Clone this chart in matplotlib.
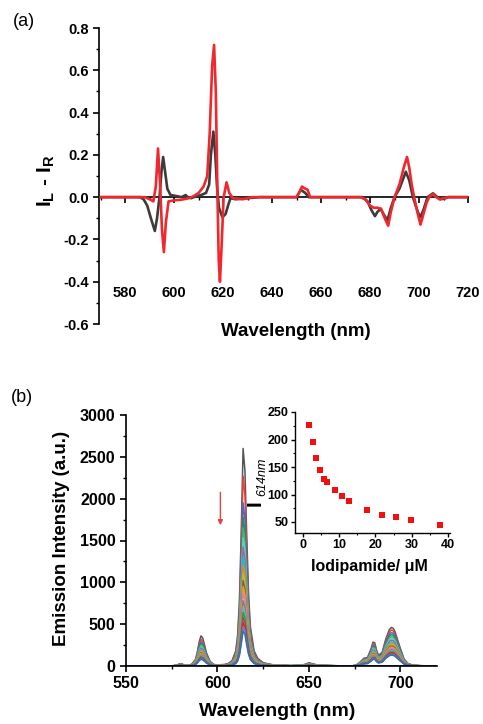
import numpy as np
import matplotlib
matplotlib.use("Agg")
import matplotlib.pyplot as plt
from matplotlib.ticker import MultipleLocator

plt.rcParams['font.family'] = ['Liberation Sans', 'DejaVu Sans']
plt.rcParams['mathtext.fontset'] = 'custom'
plt.rcParams['mathtext.rm'] = 'Liberation Sans'
plt.rcParams['mathtext.it'] = 'Liberation Sans:italic'
plt.rcParams['mathtext.bf'] = 'Liberation Sans:bold'

# ---------------- Panel (a): CPL spectra ----------------
cpl_black_wl = [570, 586, 587.5, 589, 590.5, 592.1, 593, 594, 594.8, 595.5, 596.3, 597.2, 598.5, 601, 603,
                604.7, 605.5, 607, 608, 611, 613, 614.3, 615, 616, 616.8, 617.5, 618.3, 619.7, 621, 622, 623,
                625, 630, 635, 650, 651.7, 653.5, 655, 660, 677, 679, 680.5, 682, 683, 684.3, 685.5, 687.1,
                688.5, 690, 692, 694.6, 696, 697.5, 699.5, 700.6, 701.8, 703.5, 705.7, 707.5, 708.5, 710, 712, 720]
cpl_black = [0, 0, -0.01, -0.04, -0.1, -0.16, -0.1, 0.0, 0.12, 0.19, 0.12, 0.04, 0.01, 0.005, 0.0,
             0.01, 0.0, -0.005, 0, 0.01, 0.02, 0.06, 0.2, 0.31, 0.2, 0.05, -0.05, -0.095, -0.08, -0.04, -0.005,
             -0.01, -0.005, 0, 0, 0.035, 0.02, 0.0, 0, 0, -0.02, -0.06, -0.09, -0.07, -0.055, -0.08, -0.11,
             -0.05, 0.0, 0.04, 0.12, 0.08, 0.0, -0.07, -0.095, -0.06, 0.0, 0.018, 0.0, -0.01, -0.008, 0, 0]

cpl_red_wl = [570, 585, 588, 590, 591.5, 592.5, 593.4, 594.3, 595, 595.8, 596.6, 597.7, 600, 603, 606, 608,
              610, 612, 613.5, 614.5, 615.5, 616.3, 617, 617.7, 618.2, 618.7, 619.3, 620.2, 621.4, 622.5,
              624, 628, 632, 650, 651, 652.2, 653.5, 654.5, 655.5, 660, 676, 678, 680, 681.5, 683, 684.5,
              686, 687.4, 688.5, 690, 692, 694, 695.1, 696, 697, 698, 699.5, 700.6, 701.8, 703, 704.1,
              705.7, 707, 708.5, 710, 712, 720]
cpl_red = [0, 0, 0.0, -0.01, -0.02, 0.05, 0.23, 0.05, -0.15, -0.26, -0.12, -0.02, -0.015, -0.012, -0.005, 0.005,
           0.02, 0.05, 0.1, 0.3, 0.62, 0.72, 0.5, 0.0, -0.3, -0.40, -0.25, 0.0, 0.07, 0.02,
           -0.005, -0.01, 0, 0, 0.02, 0.05, 0.04, 0.035, 0.0, 0, 0, -0.01, -0.04, -0.05, -0.05, -0.055,
           -0.1, -0.135, -0.07, 0.0, 0.06, 0.15, 0.19, 0.14, 0.06, 0.0, -0.08, -0.13, -0.08, -0.03, 0,
           0.015, 0.0, -0.01, -0.005, 0, 0]

# ---------------- Panel (b): emission titration ----------------
em_wl = [550, 570, 576, 578, 580, 582, 584, 586, 588, 589, 590, 591, 592, 593, 594, 596, 598, 600, 604, 606,
         608, 610, 611, 612, 613, 614, 615, 616, 617, 618, 620, 622, 625, 630, 640, 646, 648, 650, 652, 655,
         670, 674, 676, 678, 680, 682, 684, 685, 686, 687, 688, 690, 692, 694, 695, 696, 697, 698, 700, 702,
         704, 706, 710, 715, 720]
# relative band profiles on em_wl
band_591 = [0, 0, 0.01, 0.04, 0.08, 0.03, 0.02, 0.06, 0.22, 0.47, 0.8, 1.0, 0.92, 0.68, 0.43, 0.15, 0.05, 0.015, 0, 0,
            0, 0, 0, 0, 0, 0, 0, 0, 0, 0, 0, 0, 0, 0, 0, 0, 0, 0, 0, 0,
            0, 0, 0, 0, 0, 0, 0, 0, 0, 0, 0, 0, 0, 0, 0, 0, 0, 0, 0, 0,
            0, 0, 0, 0, 0]
band_614 = [0, 0, 0, 0, 0, 0, 0, 0, 0, 0, 0, 0, 0, 0, 0, 0, 0, 0.003, 0.007, 0.012,
            0.025, 0.07, 0.14, 0.3, 0.62, 1.0, 0.9, 0.6, 0.33, 0.18, 0.07, 0.035, 0.015, 0.006, 0.002, 0.004, 0.008, 0.015, 0.01, 0.004,
            0, 0, 0, 0, 0, 0, 0, 0, 0, 0, 0, 0, 0, 0, 0, 0, 0, 0, 0, 0,
            0, 0, 0, 0, 0]
band_695 = [0, 0, 0, 0, 0, 0, 0, 0, 0, 0, 0, 0, 0, 0, 0, 0, 0, 0, 0, 0,
            0, 0, 0, 0, 0, 0, 0, 0, 0, 0, 0, 0, 0, 0, 0, 0, 0, 0, 0, 0,
            0, 0.005, 0.03, 0.1, 0.2, 0.22, 0.45, 0.62, 0.6, 0.4, 0.28, 0.35, 0.7, 0.95, 1.0, 0.98, 0.9, 0.75, 0.45, 0.18,
            0.07, 0.03, 0.01, 0.003, 0]
# peak heights of each spectrum
peak_614 = [2600, 2270, 1950, 1780, 1650, 1530, 1420, 1300, 1200, 1100, 1020, 950, 870, 780, 700, 640, 580, 520, 470, 420]
peak_591 = [360, 320, 290, 270, 250, 230, 215, 200, 185, 170, 160, 150, 140, 130, 120, 110, 100, 95, 88, 80]
peak_695 = [460, 430, 400, 375, 350, 330, 310, 290, 270, 255, 240, 225, 210, 195, 180, 170, 160, 150, 140, 130]
spec_colors = ['#555555', '#e8413c', '#3b6fd1', '#2e8b57', '#49b36a', '#5fd3bc', '#9467bd', '#17becf',
               '#ff7f0e', '#bcbd22', '#8c564b', '#e8a020', '#e377c2', '#7f7f7f', '#66aadd', '#2ca02c',
               '#8c564b', '#d62728', '#9467bd', '#1f77b4']

# inset
conc = [1.7, 2.7, 3.7, 4.8, 5.7, 6.7, 8.8, 10.7, 12.7, 17.7, 21.7, 25.8, 29.7, 37.9]
i614 = [227, 196, 167, 144, 129, 122, 108, 97, 89, 72, 63, 59, 54, 44.5]

W, H = 483, 724
fig = plt.figure(figsize=(W / 100, H / 100), dpi=100)

def fx(px):
    return px / W

def fy(py):
    return 1 - py / H

bold = dict(fontweight='bold')

# ---- Panel a ----
axa = fig.add_axes([fx(99), fy(324), fx(468) - fx(99), fy(28) - fy(324)])
axa.plot(cpl_black_wl, cpl_black, color='#3c3c3c', lw=1.9, zorder=3)
axa.plot(cpl_red_wl, cpl_red, color='#f0282d', lw=1.9, zorder=4)
axa.set_xlim(569.3, 720)
axa.set_ylim(-0.6, 0.8)
axa.spines['top'].set_visible(False)
axa.spines['right'].set_visible(False)
axa.spines['bottom'].set_position(('data', 0))
for s in ['left', 'bottom']:
    axa.spines[s].set_linewidth(1.2)
axa.xaxis.set_minor_locator(MultipleLocator(10))
axa.yaxis.set_major_locator(MultipleLocator(0.2))
axa.yaxis.set_minor_locator(MultipleLocator(0.1))
axa.set_xticks(np.arange(580, 721, 20))
axa.tick_params(axis='both', which='major', direction='out', length=4, width=1.2, labelsize=10.5)
axa.tick_params(axis='both', which='minor', direction='out', length=2, width=1)
axa.tick_params(axis='x', which='major', pad=60)
for lab in axa.get_xticklabels() + axa.get_yticklabels():
    lab.set_fontweight('bold')
axa.yaxis.set_major_formatter(matplotlib.ticker.FuncFormatter(lambda v, p: f"{v:.1f}"))

fig.text(fx(24), fy(21), '(a)', fontsize=13, ha='center', va='center')
fig.text(fx(296), fy(331), 'Wavelength (nm)', fontsize=13.5, ha='center', va='center', **bold)
fig.text(fx(46), fy(181), r'$\mathbf{I_L}$ - $\mathbf{I_R}$', fontsize=15, ha='center', va='center',
         rotation=90, **bold)

# ---- Panel b ----
axb = fig.add_axes([fx(126), fy(666), fx(437) - fx(126), fy(415) - fy(666)])
em_wl_a = np.array(em_wl)
b591 = np.array(band_591)
b614 = np.array(band_614)
b695 = np.array(band_695)
for k in range(len(peak_614)):
    spec = peak_614[k] * b614 + peak_591[k] * b591 + peak_695[k] * b695
    axb.plot(em_wl_a, spec, color=spec_colors[k], lw=1.1)
axb.plot([550, 720], [0, 0], color='#1f3f8f', lw=1.3)
axb.set_xlim(550, 720)
axb.set_ylim(0, 3000)
axb.spines['top'].set_visible(False)
axb.spines['right'].set_visible(False)
for s in ['left', 'bottom']:
    axb.spines[s].set_linewidth(1.2)
axb.xaxis.set_major_locator(MultipleLocator(50))
axb.xaxis.set_minor_locator(MultipleLocator(25))
axb.yaxis.set_major_locator(MultipleLocator(500))
axb.yaxis.set_minor_locator(MultipleLocator(250))
axb.tick_params(axis='both', which='major', direction='out', length=4, width=1.2, labelsize=11.5)
axb.tick_params(axis='both', which='minor', direction='out', length=2, width=1)
for lab in axb.get_xticklabels() + axb.get_yticklabels():
    lab.set_fontweight('bold')
axb.annotate('', xy=(601.6, 1650), xytext=(601.6, 2110),
             arrowprops=dict(arrowstyle='-|>', color='#e84040', lw=1.0, mutation_scale=7))

fig.text(fx(22), fy(397), '(b)', fontsize=13, ha='center', va='center')
fig.text(fx(277), fy(712), 'Wavelength (nm)', fontsize=14, ha='center', va='center', **bold)
fig.text(fx(61), fy(538), 'Emission Intensity (a.u.)', fontsize=13.5, ha='center', va='center', rotation=90, **bold)

# ---- Inset ----
axi = fig.add_axes([fx(295), fy(533), fx(450) - fx(295), fy(412) - fy(533)])
axi.patch.set_alpha(0)
axi.plot(conc, i614, 's', color='#f01010', markersize=4.6, markeredgewidth=0)
axi.set_xlim(-2.2, 40.6)
axi.set_ylim(30, 250)
axi.spines['top'].set_visible(False)
axi.spines['right'].set_visible(False)
for s in ['left', 'bottom']:
    axi.spines[s].set_linewidth(1.0)
axi.xaxis.set_major_locator(MultipleLocator(10))
axi.xaxis.set_minor_locator(MultipleLocator(5))
axi.set_yticks([50, 100, 150, 200, 250])
axi.yaxis.set_minor_locator(MultipleLocator(25))
axi.tick_params(axis='both', which='major', direction='out', length=3, width=1, labelsize=9, pad=1.5)
axi.tick_params(axis='both', which='minor', direction='out', length=1.5, width=0.8)
for lab in axi.get_xticklabels() + axi.get_yticklabels():
    lab.set_fontweight('bold')
fig.text(fx(369), fy(566), 'Iodipamide/ μM', fontsize=11.5, ha='center', va='center', **bold)
fig.text(fx(255), fy(503), 'I', fontsize=15, ha='center', va='center', rotation=90, **bold)
fig.text(fx(262), fy(477), '614nm', fontsize=9, ha='center', va='center', rotation=90, style='italic')

fig.savefig('out.png', dpi=100)
